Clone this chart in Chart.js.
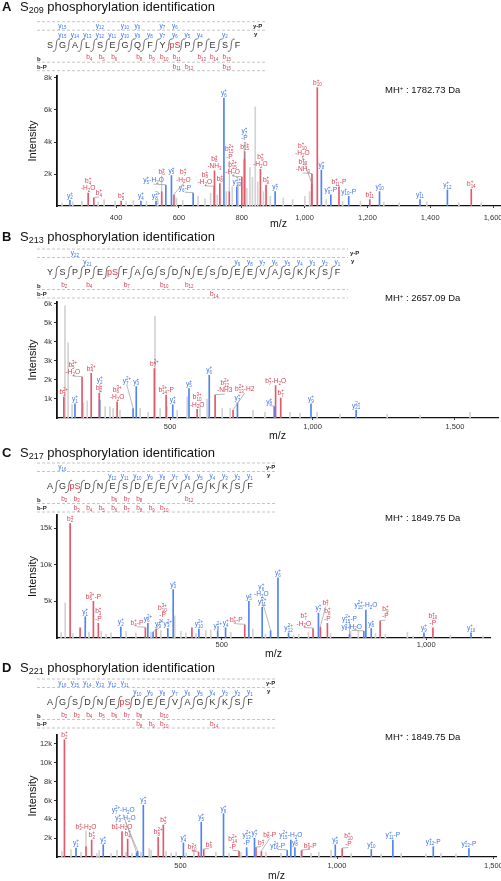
<!DOCTYPE html>
<html>
<head>
<meta charset="utf-8">
<script src="https://cdn.jsdelivr.net/npm/chart.js@4.4.1/dist/chart.umd.min.js"></script>
<style>
  body { margin: 0; width: 501px; height: 881px; position: relative; overflow: hidden; background: #fff;
         font-family: "Liberation Sans", Arial, sans-serif; color: #111; }
  canvas { position: absolute; left: 0; }
  .ttl { position: absolute; left: 2px; font-size: 13px; line-height: 16px; white-space: nowrap; }
  .ttl b { display: inline-block; width: 18px; }
  .ttl sub { font-size: 9px; vertical-align: -2px; line-height: 0; }
  .mh { position: absolute; left: 385px; font-size: 9.5px; line-height: 12px; white-space: nowrap; }
  .mh sup { font-size: 6px; vertical-align: 3px; line-height: 0; }
</style>
</head>
<body>
<canvas id="hdr" width="501" height="881" style="top:0"></canvas>
<div class="ttl" style="top:-1px"><b>A</b>S<sub>209</sub> phosphorylation identification</div>
<div class="ttl" style="top:229px"><b>B</b>S<sub>213</sub> phosphorylation identification</div>
<div class="ttl" style="top:445px"><b>C</b>S<sub>217</sub> phosphorylation identification</div>
<div class="ttl" style="top:660px"><b>D</b>S<sub>221</sub> phosphorylation identification</div>
<div class="mh" style="top:84px">MH<sup>+</sup> : 1782.73 Da</div>
<div class="mh" style="top:292px">MH<sup>+</sup> : 2657.09 Da</div>
<div class="mh" style="top:512px">MH<sup>+</sup> : 1849.75 Da</div>
<div class="mh" style="top:731px">MH<sup>+</sup> : 1849.75 Da</div>
<script>
// ─── Espectros MS/MS (4 paneles) ─────────────────────────────────

Chart.defaults.font.family = '"Liberation Sans", Arial, sans-serif';

const RED = '#e2596a', BLUE = '#4f84f2', GREY = '#d3d3d3';
const RED_T = '#d63f52', BLUE_T = '#3d72ea';

// ── Panel A: S209 ──
const seqA = ['S','G','A','L','S','E','G','Q','F','Y','pS','P','P','E','S','F'];
const yIonA  = [15,14,13,12,11,10,9,8,7,6,5,4,2];
const yPIonA = [15,12,10,9,7,6];
const bIonA  = [4,5,6,8,9,10,11,13,14,15];
const bPIonA = [11,12,15];
const aBlueMz  = [253.1, 479.2, 527.2, 558.3, 576.3, 645.3, 743.3, 784.3, 808.3, 906.3, 1053.4, 1083.5, 1140.5, 1238.5, 1367.5, 1454.6];
const aBlueInt = [350, 300, 300, 1300, 1900, 800, 6750, 1200, 2900, 900, 2250, 700, 600, 900, 400, 1000];
const aBlueLbl = ['y{2}[+]','y{4}[+]','y{8}[2+]','y{5}[+]-H{2}O','y{5}[+]','y{6}[+]-P','y{6}[+]','y{13}[2+]','y{7}[+]\n-P','y{7}[+]','y{8}[+]','y{9}[+]-P','y{10}[+]-P','y{10}[+]','y{11}[+]','y{12}[+]'];
const aRedMz  = [311.2, 329.2, 416.2, 545.3, 584.3, 712.3, 713.3, 730.3, 760.3, 800.3, 809.3, 859.4, 877.4, 1022.5, 1023.5, 1040.5, 1109.5, 1207.5, 1530.6];
const aRedInt = [800, 500, 300, 900, 700, 1200, 2200, 1400, 900, 1800, 3400, 2300, 1300, 1400, 2000, 7400, 1200, 400, 1050];
const aRedLbl = ['b{4}[+]\n-H{2}O','b{4}[+]','b{5}[+]','b{6}[+]','b{7}[+]\n-H{2}O','b{8}[+]\n-H{2}O','b{8}[+]\n-NH{3}','b{8}[+]','b{15}[2+]\n-P','b{15}[2+]\n-H{2}O','b{15}[2+]','b{9}[+]\n-H{2}O','b{9}[+]','b{10}[+]\n-H{2}O','b{10}[+]\n-NH{3}','b{10}[+]','b{11}[+]-P','b{11}[+]','b{14}[+]'];
const aGreyMz  = [228, 262, 291, 343, 362, 397, 432, 455, 497, 533, 592, 612, 661, 683, 701, 722, 751, 770, 789, 816, 826, 834, 843, 851, 869, 891, 932, 962, 1001, 1016, 1069, 1121, 1178, 1252, 1301, 1389, 1491, 1562];
const aGreyInt = [200, 250, 300, 250, 400, 300, 250, 350, 300, 400, 500, 350, 600, 450, 800, 700, 900, 1200, 1500, 1100, 2400, 1800, 6200, 1500, 900, 600, 500, 400, 600, 900, 400, 300, 300, 250, 200, 250, 200, 200];
const aXTicks = [400, 600, 800, 1000, 1200, 1400, 1600];
const aYTicks = [2000, 4000, 6000, 8000];

// ── Panel B: S213 ──
const seqB = ['Y','S','P','P','E','pS','F','A','G','S','D','N','E','S','D','E','E','V','A','G','K','K','S','F'];
const yIonB  = [21,9,8,7,6,5,4,3,2,1];
const yPIonB = [22];
const bIonB  = [2,4,7,10,12];
const bPIonB = [14];
const bBlueMz  = [166.1, 253.1, 370, 381.2, 509.3, 566.3, 637.4, 736.4, 865.5, 994.5, 1153];
const bBlueInt = [750, 950, 500, 1650, 700, 1550, 2250, 800, 600, 750, 400];
const bBlueLbl = ['y{1}[+]','y{2}[+]','y{7}[2+]','y{3}[+]','y{4}[+]','y{5}[+]','y{6}[+]','y{7}[+]','y{8}[+]','y{9}[+]','y{21}[2+]'];
const bRedMz  = [127, 191, 223.1, 251.1, 314, 444.7, 486, 595, 658, 721, 870.3, 888.3];
const bRedInt = [1100, 2150, 2350, 1300, 850, 2600, 1200, 450, 1200, 400, 1700, 1050];
const bRedLbl = ['b{3}[2+]','b{5}[3+]\n-H{2}O','b{4}[2+]','b{2}[+]','b{6}[3+]\n-H{2}O','b{7}[2+]','b{14}[3+]-P','b{10}[3+]\n-H{2}O','b{12}[2+]\n-NH3','b{13}[2+]-H2','b{7}[+]-H{2}O','b{7}[+]'];
const bGreyMz  = [131, 142, 156, 195, 209, 272, 289, 300, 324, 395, 423, 447, 465, 489, 525, 560, 605, 630, 683, 711, 791, 833, 921, 956, 1016, 1097, 1262, 1378, 1553];
const bGreyInt = [5900, 3950, 700, 800, 900, 600, 600, 500, 400, 500, 300, 5350, 500, 600, 400, 1100, 600, 1000, 500, 500, 400, 300, 300, 250, 300, 200, 200, 150, 300];
const bXTicks = [500, 1000, 1500];
const bYTicks = [1000, 2000, 3000, 4000, 5000, 6000];

// ── Panel C: S217 ──
const seqC = ['A','G','pS','D','N','E','S','D','E','E','V','A','G','K','K','S','F'];
const yIonC  = [12,11,10,9,8,7,6,5,4,3,2,1];
const yPIonC = [16];
const bIonC  = [2,3,6,7,8,12];
const bPIonC = [3,4,5,6,7,8,9,10];
const cBlueMz  = [166.1, 253.1, 319.2, 332, 368, 381.2, 444, 490, 509.3, 566.3, 598.8, 619.4, 637.4, 663.3, 736.4, 812.4, 847.5, 852.4, 865.5, 994.5, 1109.6];
const cBlueInt = [2900, 1500, 2000, 800, 1300, 6600, 1200, 1000, 1400, 5000, 4200, 1000, 8200, 700, 3400, 500, 900, 3800, 1300, 700, 700];
const cBlueLbl = ['y{1}[+]','y{2}[+]','y{6}[2+]','y{9}[2+]','y{3}[2+]','y{3}[+]','y{10}[2+]','y{8}[2+]','y{4}[+]','y{5}[+]','y{11}[2+]','y{6}[+]\n-H{2}O','y{6}[+]','y{12}[2+]','y{7}[+]','y{15}[2+]-P','y{8}[+]-H{2}O','y{15}[2+]-H{2}O','y{8}[+]','y{9}[+]','y{10}[+]'];
const cRedMz  = [129.1, 153.5, 186, 198.1, 313.1, 339.4, 427, 556.2, 723.2, 741.2, 758.3, 887.3, 1016.4];
const cRedInt = [15600, 1400, 5000, 2000, 1400, 1200, 1400, 1800, 1300, 1500, 2000, 2300, 1400];
const cRedLbl = ['b{2}[+]','','b{6}[3+]-P','b{3}[+]\n-P','b{4}[+]-P','b{10}[3+]\n-P','','b{6}[+]-P','b{7}[+]\n-H{2}O','b{7}[+]','b{8}[+]\n-P','b{9}[+]\n-P','b{10}[+]\n-P'];
const cGreyMz  = [107, 117, 136, 175, 205, 217, 229, 266, 290, 327, 351, 385, 400, 412, 437, 461, 473, 522, 576, 607, 676, 688, 712, 766, 815, 834, 876, 900, 954, 968, 1059, 1139];
const cGreyInt = [700, 4800, 600, 800, 900, 500, 700, 900, 700, 800, 1000, 3000, 900, 700, 600, 1000, 1100, 800, 1200, 500, 400, 500, 800, 600, 900, 1000, 600, 500, 800, 300, 400, 300];
const cXTicks = [500, 1000];
const cYTicks = [5000, 10000, 15000];

// ── Panel D: S221 ──
const seqD = ['A','G','S','D','N','E','pS','D','E','E','V','A','G','K','K','S','F'];
const yIonD  = [10,9,8,7,6,5,4,3,2,1];
const yPIonD = [16,15,14,13,12,11];
const bIonD  = [2,3,4,5,6,7,8,10];
const bPIonD = [8,9,10,14];
const dBlueMz  = [166.1, 253.1, 359.7, 363.2, 381.2, 509.3, 566.3, 637.4, 711.3, 736.4, 840.9, 852.4, 865.5, 994.5, 1109.6, 1178.5, 1307.6, 1421.6];
const dBlueInt = [950, 1300, 450, 600, 5500, 1500, 3700, 4600, 1000, 2000, 700, 1800, 1000, 1300, 800, 1800, 1100, 900];
const dBlueLbl = ['y{1}[+]','y{2}[+]','y{7}[2+]-H{2}O','y{3}[+]-H{2}O','y{3}[+]','y{4}[+]','y{5}[+]','y{6}[+]','y{13}[2+]\n-P','y{7}[+]','y{16}[2+]-P','y{15}[2+]-H{2}O','y{8}[+]','y{9}[+]','y{10}[+]','y{11}[+]-P','y{12}[+]-P','y{13}[+]-P'];
const dRedMz  = [129.1, 198.1, 216.1, 313.1, 331.1, 428.7, 445.2, 557.7, 574.2, 687, 741.2, 758.3, 887.3, 1016.4];
const dRedInt = [12450, 1100, 1800, 2700, 1900, 2100, 3400, 500, 800, 600, 1000, 600, 700, 900];
const dRedLbl = ['b{2}[+]','b{3}[+]-H{2}O','b{3}[+]','b{4}[+]-H{2}O','b{4}[+]','b{8}[2+]','b{5}[+]','b{10}[2+]','b{6}[+]','b{14}[2+]\n-P','b{7}[+]','b{8}[+]-P','b{9}[+]-P','b{10}[+]\n-P'];
const dGreyMz  = [121, 150, 182, 233, 240, 278, 297, 326, 345, 374, 400, 406, 454, 470, 486, 518, 543, 613, 655, 693, 712, 773, 821, 885, 917, 942, 981, 1045, 1141, 1205, 1284, 1332, 1380];
const dGreyInt = [600, 800, 500, 400, 700, 400, 700, 500, 400, 500, 900, 700, 600, 400, 500, 400, 700, 500, 400, 500, 600, 500, 400, 600, 400, 500, 700, 400, 300, 400, 300, 400, 300];
const dXTicks = [500, 1000, 1500];
const dYTicks = [2000, 4000, 6000, 8000, 10000, 12000];

// layout de cada panel (px de página)
const PANELS = [
  { seq: seqA, yI: yIonA, yP: yPIonA, bI: bIonA, bP: bPIonA, hdrTop: 21.7, dashEnd: 265, rightX: 253,
    red: [aRedMz, aRedInt, aRedLbl], blue: [aBlueMz, aBlueInt, aBlueLbl], grey: [aGreyMz, aGreyInt],
    xMin: 212, xMax: 1622, yMax: 8125, xTicks: aXTicks, yTicks: aYTicks,
    plotTop: 76, plotBottom: 206, plotRight: 500, mzY: 223, tickPad: 5 },
  { seq: seqB, yI: yIonB, yP: yPIonB, bI: bIonB, bP: bPIonB, hdrTop: 249, dashEnd: 348, rightX: 350,
    red: [bRedMz, bRedInt, bRedLbl], blue: [bBlueMz, bBlueInt, bBlueLbl], grey: [bGreyMz, bGreyInt],
    xMin: 103, xMax: 1651, yMax: 6100, xTicks: bXTicks, yTicks: bYTicks,
    plotTop: 302, plotBottom: 418, plotRight: 498, mzY: 435, tickPad: 2.5 },
  { seq: seqC, yI: yIonC, yP: yPIonC, bI: bIonC, bP: bPIonC, hdrTop: 463, dashEnd: 275, rightX: 266,
    red: [cRedMz, cRedInt, cRedLbl], blue: [cBlueMz, cBlueInt, cBlueLbl], grey: [cGreyMz, cGreyInt],
    xMin: 97, xMax: 1156, yMax: 16780, xTicks: cXTicks, yTicks: cYTicks,
    plotTop: 515, plotBottom: 638, plotRight: 490, mzY: 653, tickPad: 0 },
  { seq: seqD, yI: yIonD, yP: yPIonD, bI: bIonD, bP: bPIonD, hdrTop: 679, dashEnd: 275, rightX: 266,
    red: [dRedMz, dRedInt, dRedLbl], blue: [dBlueMz, dBlueInt, dBlueLbl], grey: [dGreyMz, dGreyInt],
    xMin: 105.4, xMax: 1508, yMax: 12950, xTicks: dXTicks, yTicks: dYTicks,
    plotTop: 735, plotBottom: 857, plotRight: 496, mzY: 875, tickPad: 2.5 },
];

// ─── texto con sub/superíndices: y{6}[2+]-H{2}O ───
function parseRich(s) {
  const out = [], re = /\{([^}]*)\}|\[([^\]]*)\]|([^{[]+)/g;
  let m;
  while ((m = re.exec(s))) {
    if (m[1] != null) out.push({ t: m[1], k: 'sub' });
    else if (m[2] != null) out.push({ t: m[2], k: 'sup' });
    else out.push({ t: m[3], k: 'n' });
  }
  return out;
}

function layoutRich(ctx, s, fs) {
  const out = [];
  let x = 0, lastSub = null;
  parseRich(s).forEach(g => {
    const size = g.k === 'n' ? fs : fs * 0.68;
    ctx.font = `${size}px "Liberation Sans"`;
    const w = ctx.measureText(g.t).width;
    if (g.k === 'sup' && lastSub) {
      out.push({ ...g, size, x: lastSub.x, dy: -fs * 0.45 });
      x = Math.max(x, lastSub.x + w);
      lastSub = null;
    } else {
      out.push({ ...g, size, x, dy: g.k === 'sub' ? fs * 0.25 : g.k === 'sup' ? -fs * 0.45 : 0 });
      lastSub = g.k === 'sub' ? { x } : null;
      x += w;
    }
  });
  return { segs: out, w: x };
}

function drawRich(ctx, s, cx, base, fs, color) {
  const L = layoutRich(ctx, s, fs);
  ctx.fillStyle = color;
  ctx.textAlign = 'left';
  ctx.textBaseline = 'alphabetic';
  L.segs.forEach(g => {
    ctx.font = `${g.size}px "Liberation Sans"`;
    ctx.fillText(g.t, cx - L.w / 2 + g.x, base + g.dy);
  });
}

// ─── cabecera: secuencia y fragmentos ───
function drawHeader(ctx, p) {
  const L1 = p.hdrTop, L2 = L1 + 8.5, S = L1 + 23.5, L3 = L1 + 40.5, L4 = L1 + 49;
  const n = p.seq.length;
  const xs = p.seq.map((_, i) => 50 + i * 12.5);
  const brk = k => 50 + (k - 0.5) * 12.5;

  ctx.save();
  ctx.strokeStyle = '#b5b5b5';
  ctx.lineWidth = 0.8;
  ctx.setLineDash([3, 2]);
  [L1, L2, L3, L4].forEach(yy => {
    ctx.beginPath(); ctx.moveTo(37, yy); ctx.lineTo(p.dashEnd, yy); ctx.stroke();
  });
  ctx.restore();

  ctx.textAlign = 'center';
  ctx.textBaseline = 'middle';
  ctx.font = '9px "Liberation Sans"';
  p.seq.forEach((r, i) => {
    ctx.fillStyle = r === 'pS' ? '#e8323c' : '#333';
    ctx.fillText(r, xs[i], S + 0.5);
  });

  ctx.strokeStyle = '#555';
  ctx.lineWidth = 0.9;
  for (let k = 1; k < n; k++) {
    const bx = brk(k);
    ctx.beginPath();
    ctx.moveTo(bx - 3.5, S + 6);
    ctx.bezierCurveTo(bx - 0.5, S + 7, bx - 0.3, S + 3, bx, S);
    ctx.bezierCurveTo(bx + 0.3, S - 3, bx + 0.5, S - 7, bx + 3.5, S - 6);
    ctx.stroke();
  }

  p.yP.forEach(k => drawRich(ctx, `y{${k}}`, brk(n - k) + 6, L1 + 6, 6.5, BLUE_T));
  p.yI.forEach(k => drawRich(ctx, `y{${k}}`, brk(n - k) + 6, L2 + 6.5, 6.5, BLUE_T));
  p.bI.forEach(k => drawRich(ctx, `b{${k}}`, brk(k) - 4.5, L3 - 3, 6.5, RED_T));
  p.bP.forEach(k => drawRich(ctx, `b{${k}}`, brk(k) - 4.5, L3 + 6.5, 6.5, RED_T));

  ctx.fillStyle = '#222';
  ctx.font = 'bold 6px "Liberation Sans"';
  ctx.textAlign = 'left';
  ctx.textBaseline = 'middle';
  ctx.fillText('y-P', p.rightX, L1 + 4.2);
  ctx.fillText('y', p.rightX + 1, L2 + 4.2);
  ctx.fillText('b', 37, L3 - 3);
  ctx.fillText('b-P', 37, L4 - 3.8);
}

// ─── etiquetas de picos ───
const peakLabels = {
  id: 'peakLabels',
  afterDatasetsDraw(chart, args, o) {
    const { ctx, chartArea: ca, scales: { x, y } } = chart;
    const FS = 6.6, LH = 7.4;
    const items = [];
    o.sets.forEach(s => s.mz.forEach((m, i) => {
      items.push({ m, v: s.int[i], t: s.lbl[i], c: s.color, px: x.getPixelForValue(m), py: y.getPixelForValue(s.int[i]) });
    }));
    const lbl = items.filter(it => it.t).sort((a, b) => b.v - a.v);
    const placed = [];
    const hitsPeak = (b, own) => items.some(q => q !== own && q.px > b.l - 0.5 && q.px < b.r + 0.5 && q.py < b.b);

    ctx.save();
    lbl.forEach(it => {
      const lines = it.t.split('\n');
      const w = Math.max(...lines.map(l => layoutRich(ctx, l, FS).w));
      const hh = lines.length * LH;
      let best = null;
      for (const strict of [true, false]) {
        for (let dy = 0; dy <= 90 && !best; dy += 1.5) {
          for (const dx of [0, -(w / 2 + 2), w / 2 + 2]) {
            const b = { l: it.px + dx - w / 2, r: it.px + dx + w / 2, b: it.py - 1 - dy, t: it.py - 1 - dy - hh, dx, dy };
            if (b.t < ca.top - 11 || b.l < ca.left + 2 || b.r > ca.right + 2) continue;
            if (placed.some(q => b.l < q.r && b.r > q.l && b.t < q.b && b.b > q.t)) continue;
            if (strict && hitsPeak(b, it)) continue;
            best = b; break;
          }
        }
        if (best) break;
      }
      if (!best) return;
      placed.push(best);
      const cx = (best.l + best.r) / 2;
      if (best.dy > 4 || best.dx) {
        ctx.strokeStyle = '#9a9a9a';
        ctx.lineWidth = 0.7;
        ctx.beginPath(); ctx.moveTo(cx, best.b); ctx.lineTo(it.px, it.py - 0.5); ctx.stroke();
      }
      lines.forEach((l, k) => drawRich(ctx, l, cx, best.t + (k + 1) * LH - 1.8, FS, it.c === RED ? RED_T : BLUE_T));
    });
    ctx.restore();
  }
};

function makeChart(p) {
  const cv = document.createElement('canvas');
  const top = p.plotTop - 12;
  const h = Math.round(p.mzY + 7 - top);
  cv.width = 501;
  cv.height = h;
  cv.style.top = top + 'px';
  document.body.appendChild(cv);

  const ds = (mz, it, color, order) => ({
    data: mz.map((m, i) => ({ x: m, y: it[i] })),
    backgroundColor: color,
    barThickness: 1,
    grouped: false,
    order,
  });

  new Chart(cv, {
    type: 'bar',
    data: {
      datasets: [
        ds(p.red[0], p.red[1], RED, 1),
        ds(p.blue[0], p.blue[1], BLUE, 2),
        ds(p.grey[0], p.grey[1], GREY, 3),
      ],
    },
    plugins: [peakLabels],
    options: {
      responsive: false,
      animation: false,
      events: [],
      layout: { padding: { top: 12, right: 501 - p.plotRight, left: 0, bottom: 0 } },
      plugins: {
        legend: { display: false },
        tooltip: { enabled: false },
        peakLabels: {
          sets: [
            { mz: p.red[0], int: p.red[1], lbl: p.red[2], color: RED },
            { mz: p.blue[0], int: p.blue[1], lbl: p.blue[2], color: BLUE },
          ],
        },
      },
      scales: {
        x: {
          type: 'linear', min: p.xMin, max: p.xMax, offset: false,
          grid: { drawOnChartArea: false, drawTicks: true, tickLength: 2, color: '#333', offset: false },
          border: { color: '#111', width: 1.3 },
          ticks: { font: { size: 7.5 }, color: '#333', padding: p.tickPad, maxRotation: 0, autoSkip: false,
                   callback: v => v.toLocaleString('en-US') },
          afterBuildTicks: s => { s.ticks = p.xTicks.map(v => ({ value: v })); },
          title: { display: true, text: 'm/z', font: { size: 10.5 }, color: '#111', padding: { top: 0, bottom: 0 } },
          afterFit: s => { s.height = h - 12 - (p.plotBottom - p.plotTop); s.paddingLeft = 0; s.paddingRight = 0; },
        },
        y: {
          min: 0, max: p.yMax,
          grid: { drawOnChartArea: false, drawTicks: true, tickLength: 3, color: '#333' },
          border: { color: '#111', width: 1.8 },
          ticks: { font: { size: 7.5 }, color: '#333', padding: 2, autoSkip: false,
                   callback: v => (v / 1000) + 'k' },
          afterBuildTicks: s => { s.ticks = p.yTicks.map(v => ({ value: v })); },
          title: { display: true, text: 'Intensity', font: { size: 11 }, color: '#111', padding: { top: 26, bottom: 0 } },
          afterFit: s => { s.width = 57; },
        },
      },
    },
  });
}

const hctx = document.getElementById('hdr').getContext('2d');
PANELS.forEach(p => { drawHeader(hctx, p); makeChart(p); });
</script>
</body>
</html>
